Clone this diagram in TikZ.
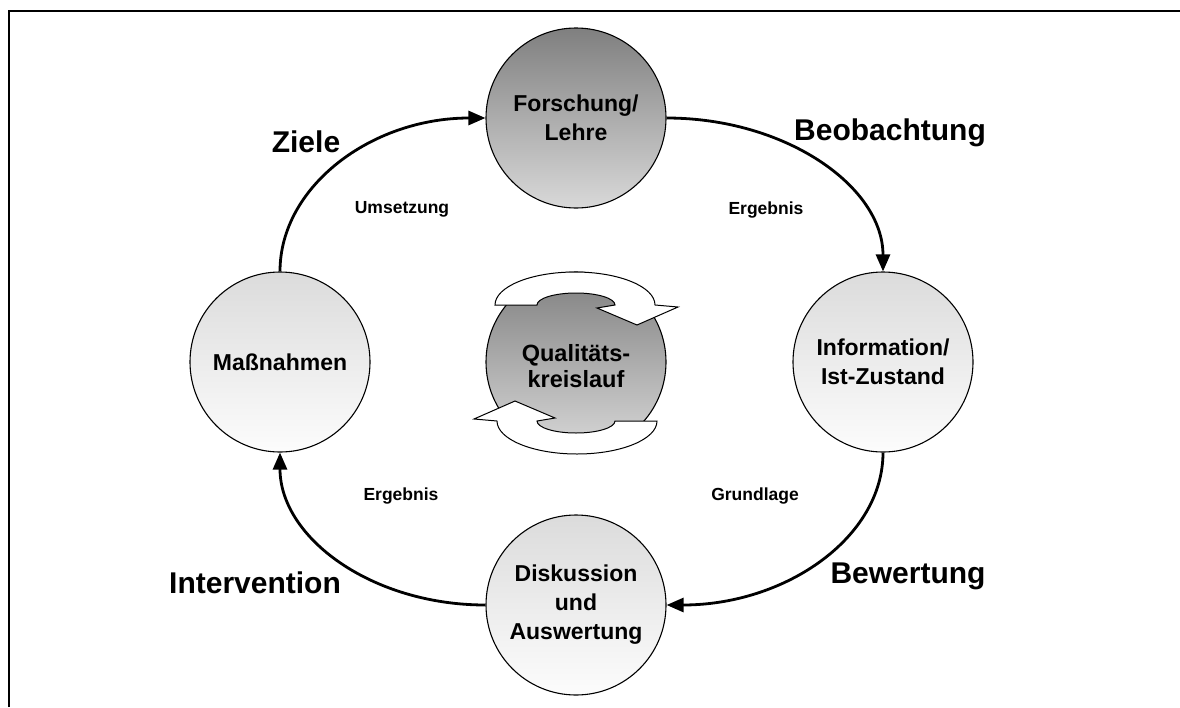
\documentclass[tikz,border=0pt]{standalone}
\usepackage{fontspec}
\setmainfont{Liberation Sans}
\usetikzlibrary{arrows.meta,calc}
\begin{document}
\begin{tikzpicture}[x=1pt,y=-1pt,
  stage/.style={circle,draw=black,line width=1.1pt,minimum size=180pt,inner sep=0pt,align=center,
    font=\fontsize{23}{29}\selectfont\bfseries},
  darkstage/.style={stage,top color=black!50,bottom color=black!15},
  lightstage/.style={stage,top color=black!14,bottom color=black!1},
  flow/.style={line width=2.8pt,-{Triangle[length=17pt,width=14pt]}},
  biglabel/.style={font=\fontsize{30}{35}\selectfont\bfseries},
  smalllabel/.style={font=\fontsize{17.5}{21}\selectfont\bfseries},
  band/.style={draw=black,line width=1pt,fill=white,line join=miter}
]
\useasboundingbox (0,0) rectangle (1180,707);
% frame
\draw[line width=2.8pt] (9,707) -- (9,11) -- (1180,11);

% stages
\node[darkstage]  (f) at (576,118) {Forschung/\\Lehre};
\node[lightstage] (i) at (883,362) {Information/\\Ist-Zustand};
\node[lightstage] (d) at (576,605) {Diskussion\\und\\Auswertung};
\node[lightstage] (m) at (280,362) {Maßnahmen};
\node[darkstage]  (q) at (576,362) {};

% cycle arrows around the centre
\draw[band] (495,305) arc[start angle=180,end angle=360,x radius=80,y radius=33]
  -- (678,307) -- (637,325) -- (597,308) -- (615,305)
  arc[start angle=0,end angle=-180,x radius=39,y radius=12] -- cycle;
\begin{scope}[rotate around={180:(576,363)}]
\draw[band] (495,305) arc[start angle=180,end angle=360,x radius=80,y radius=33]
  -- (678,307) -- (637,325) -- (597,308) -- (615,305)
  arc[start angle=0,end angle=-180,x radius=39,y radius=12] -- cycle;
\end{scope}
\node[font=\fontsize{23.5}{26}\selectfont\bfseries,align=center] (qt) at (576,366) {Qualitäts-\\kreislauf};

% connectors
\draw[flow] (m.north) .. controls +(0,-85) and +(-114,0) .. (f.west);
\draw[flow] (f.east) .. controls +(119,0) and +(0,-85) .. (i.north);
\draw[flow] (i.south) .. controls +(0,85) and +(119,0) .. (d.east);
\draw[flow] (d.west) .. controls +(-114,0) and +(0,85) .. (m.south);

% labels
\node[biglabel] (l1) at (306,142) {Ziele};
\node[biglabel] (l2) at (890,133) {Beobachtung};
\node[biglabel] (l3) at (908,576) {Bewertung};
\node[biglabel] (l4) at (255,583) {Intervention};
\node[smalllabel] (s1) at (402,209) {Umsetzung};
\node[smalllabel] (s2) at (766,210) {Ergebnis};
\node[smalllabel] (s3) at (755,496) {Grundlage};
\node[smalllabel] (s4) at (401,496) {Ergebnis};
\end{tikzpicture}
\end{document}
